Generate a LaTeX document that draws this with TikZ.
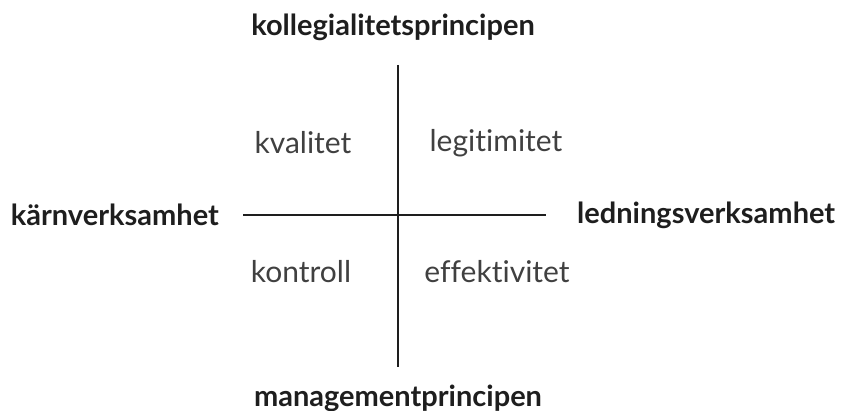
\documentclass[tikz,border=0pt]{standalone}
\usepackage{fontspec}
\setmainfont{Lato}[Ligatures=NoCommon]
\usetikzlibrary{positioning}
\definecolor{ink}{HTML}{1E1E1E}
\tikzset{%
	% axis end labels and quadrant labels
	pole/.style = {font=\fontsize{29pt}{34pt}\selectfont\bfseries, text=ink, inner sep=0pt},
	quad/.style = {font=\fontsize{30pt}{36pt}\selectfont, text=ink!85, inner sep=0pt},
	axis/.style = {draw=ink, line width=1.5pt}
}
\begin{document}
\begin{tikzpicture}[x=1pt, y=-1pt]
	\useasboundingbox (0,0) rectangle (845,411);
	\coordinate (centre) at (398,215);
	\coordinate (axTop) at (398,65);
	\coordinate (axBottom) at (398,367);
	\coordinate (axLeft) at (243,215);
	\coordinate (axRight) at (546,215);
	\draw[axis] (axTop) -- (axBottom);
	\draw[axis] (axLeft) -- (axRight);
	\node (kollegial) [pole] at (393,27) {kollegialitetsprincipen};
	\node (management) [pole] at (398,398) {managementprincipen};
	\node (karn) [pole, anchor=east] at (219,215) {kärnverksamhet};
	\node (ledning) [pole, anchor=west] at (577,215) {ledningsverksamhet};
	\node (kvalitet) [quad] at (303,143) {kvalitet};
	\node (legitimitet) [quad] at (496,143) {legitimitet};
	\node (kontroll) [quad] at (301,272) {kontroll};
	\node (effektivitet) [quad] at (497,272) {effektivitet};
\end{tikzpicture}
\end{document}
